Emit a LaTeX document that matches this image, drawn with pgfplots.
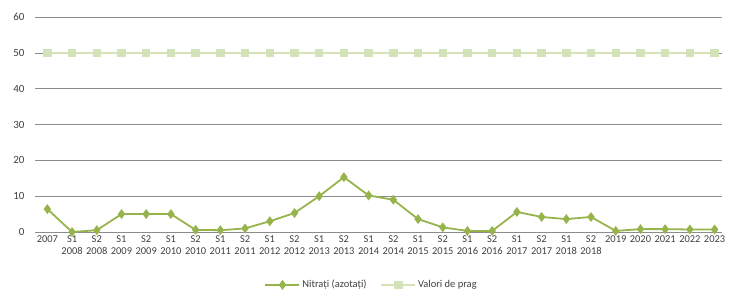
\documentclass[border=0pt]{standalone}
\usepackage{pgfplots}
\pgfplotsset{compat=1.18}
\usepackage{fontspec}
\setmainfont{Carlito}
\definecolor{nitr}{RGB}{150,180,75}
\definecolor{prag}{RGB}{212,226,186}
\definecolor{gridc}{RGB}{140,140,140}
\begin{document}
\begin{tikzpicture}[x=1bp,y=1bp]
\useasboundingbox (0,0) rectangle (730,299);
\begin{axis}[
  at={(35bp,67bp)}, anchor=south west,
  scale only axis, width=687bp, height=215bp,
  xmin=-0.5, xmax=27.3, ymin=0, ymax=60,
  ytick={0,10,...,60},
  xtick={0,...,27},
  xticklabels={2007,S1\\2008,S2\\2008,S1\\2009,S2\\2009,S1\\2010,S2\\2010,S1\\2011,S2\\2011,S1\\2012,S2\\2012,S1\\2013,S2\\2013,S1\\2014,S2\\2014,S1\\2015,S2\\2015,S1\\2016,S2\\2016,S1\\2017,S2\\2017,S1\\2018,S2\\2018,2019,2020,2021,2022,2023},
  xticklabel style={align=center, font=\fontsize{10.5}{12}\selectfont, text=black!75, anchor=north, inner sep=0.5pt},
  yticklabel style={font=\fontsize{11}{12}\selectfont, text=black!75},
  /pgf/number format/assume math mode=true,
  axis line style={draw=none},
  tick style={draw=none},
  ymajorgrids, grid style={gridc, line width=0.6pt},
  xtick pos=bottom, ytick pos=left,
  xticklabel shift=3pt, yticklabel shift=7pt,
  legend style={at={(0.49,-0.246)}, anchor=center, legend columns=2, draw=none,
    font=\fontsize{10.5}{12}\selectfont, text=black!75, /tikz/every even column/.append style={column sep=12pt}},
  legend image code/.code={\draw[mark repeat=2,mark phase=2,#1] plot coordinates {(0bp,0bp)(17bp,0bp)(34bp,0bp)};},
  legend cell align=left,
  clip=false,
]
\addplot[nitr, line width=1.8pt, mark=diamond*, mark size=3.5pt, mark options={fill=nitr, draw=nitr}] coordinates {
(0,6.4)(1,0)(2,0.5)(3,5)(4,5)(5,5)(6,0.6)(7,0.5)(8,1)(9,3)(10,5.3)(11,10)(12,15.3)(13,10.2)(14,9)(15,3.6)(16,1.3)(17,0.3)(18,0.3)(19,5.6)(20,4.2)(21,3.6)(22,4.2)(23,0.3)(24,0.8)(25,0.8)(26,0.7)(27,0.7)};
\addplot[prag, line width=1.5pt, mark=square*, mark size=3.5pt, mark options={fill=prag, draw=prag}] coordinates {
(0,50)(1,50)(2,50)(3,50)(4,50)(5,50)(6,50)(7,50)(8,50)(9,50)(10,50)(11,50)(12,50)(13,50)(14,50)(15,50)(16,50)(17,50)(18,50)(19,50)(20,50)(21,50)(22,50)(23,50)(24,50)(25,50)(26,50)(27,50)};
\legend{Nitrați (azotați),Valori de prag}
\end{axis}
\end{tikzpicture}
\end{document}
